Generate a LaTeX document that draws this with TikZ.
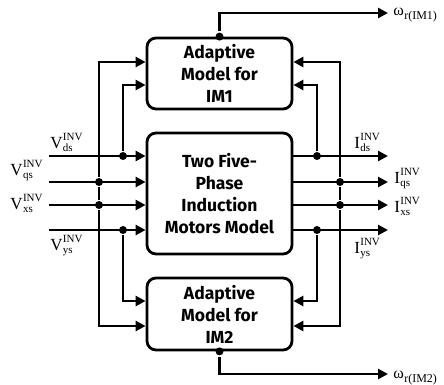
\documentclass[tikz,border=0pt]{standalone}
\usepackage{fontspec}
\setmainfont{Liberation Serif}
\newfontfamily\boxfont{Fira Sans}
\usetikzlibrary{arrows.meta}

% signal name with stacked INV superscript and component subscript
\newcommand\sigfont{\fontsize{11}{11}\selectfont}
\newcommand\invsig[2]{#1\kern0.3pt\sbox0{\sigfont INV}\sbox2{\sigfont #2}%
  \rlap{\raisebox{8pt}{\usebox0}}\raisebox{-3pt}{\usebox2}\kern\dimexpr\wd0-\wd2\relax}
% rotor speed with subscript
\newcommand\rotspeed[1]{ω\kern0.4pt\raisebox{-4pt}{\fontsize{12}{12}\selectfont #1}}

\begin{document}
\begin{tikzpicture}[x=1pt, y=-1pt, line width=2.8pt,
  blk/.style={draw, rounded corners=9pt, minimum width=145pt, align=center,
    font=\boxfont\bfseries\fontsize{17.5}{22}\selectfont, inner sep=0pt},
  sig/.style={-{Triangle[length=10pt,width=10pt]}},
  jdot/.style={circle, fill, inner sep=0pt, minimum size=8pt},
  lbl/.style={inner sep=0pt, font=\fontsize{17}{19}\selectfont},
  wlbl/.style={inner sep=0pt, font=\fontsize{16}{18}\selectfont}]
\useasboundingbox (0,0) rectangle (444,385);

% blocks
\node[blk, minimum height=71pt]  (im1) at (219.5,73.5) {Adaptive\\Model for\\IM1};
\node[blk, minimum height=121pt] (mot) at (219.5,193.5) {Two Five-\\Phase\\Induction\\Motors Model};
\node[blk, minimum height=72pt]  (im2) at (219.5,314) {Adaptive\\Model for\\IM2};

% input voltages
\coordinate (vds) at (49,156);
\coordinate (vqs) at (49,182);
\coordinate (vxs) at (49,205);
\coordinate (vys) at (49,230);
\foreach \s in {vds,vqs,vxs,vys} \draw[sig] (\s) -- (\s -| mot.west);

% voltage branches to the adaptive models
\node[jdot] (jvd) at (123,156) {};
\node[jdot] (jvq) at (99,182) {};
\node[jdot] (jvx) at (99,205) {};
\node[jdot] (jvy) at (123,230) {};
\coordinate (a1) at (99,62);
\coordinate (a2) at (123,85);
\coordinate (b1) at (123,301);
\coordinate (b2) at (99,326);
\draw[sig] (jvq) -- (a1) -- (a1 -| im1.west);
\draw[sig] (jvd) -- (a2) -- (a2 -| im1.west);
\draw[sig] (jvy) -- (b1) -- (b1 -| im2.west);
\draw[sig] (jvx) -- (b2) -- (b2 -| im2.west);
\draw (jvq) -- (jvx);

% output currents
\coordinate (ids) at (388,156);
\coordinate (iqs) at (388,182);
\coordinate (ixs) at (388,205);
\coordinate (iys) at (388,230);
\foreach \s in {ids,iqs,ixs,iys} \draw[sig] (\s -| mot.east) -- (\s);

% current branches to the adaptive models
\node[jdot] (jid) at (317,156) {};
\node[jdot] (jiq) at (340,182) {};
\node[jdot] (jix) at (340,205) {};
\node[jdot] (jiy) at (317,230) {};
\coordinate (c1) at (340,62);
\coordinate (c2) at (317,85);
\coordinate (d1) at (317,301);
\coordinate (d2) at (340,326);
\draw[sig] (jiq) -- (c1) -- (c1 -| im1.east);
\draw[sig] (jid) -- (c2) -- (c2 -| im1.east);
\draw[sig] (jiy) -- (d1) -- (d1 -| im2.east);
\draw[sig] (jix) -- (d2) -- (d2 -| im2.east);
\draw (jiq) -- (jix);

% estimated speeds
\node[jdot] (o1) at (im1.north) {};
\node[jdot] (o2) at (im2.south) {};
\coordinate (w1) at (388,13);
\coordinate (w2) at (388,374);
\draw[sig] (o1) |- (w1);
\draw[sig] (o2) |- (w2);

% labels
\node[lbl, anchor=base west] at (49,148)  {\invsig{V}{ds}};
\node[lbl, anchor=base east] at (44,175)  {\invsig{V}{qs}};
\node[lbl, anchor=base east] at (44,209)  {\invsig{V}{xs}};
\node[lbl, anchor=base west] at (49,250)  {\invsig{V}{ys}};
\node[lbl, anchor=base west] at (353,148) {\invsig{I}{ds}};
\node[lbl, anchor=base west] at (393,183) {\invsig{I}{qs}};
\node[lbl, anchor=base west] at (393,212) {\invsig{I}{xs}};
\node[lbl, anchor=base west] at (353,253) {\invsig{I}{ys}};
\node[wlbl, anchor=base west] at (392,16)  {\rotspeed{r(IM1)}};
\node[wlbl, anchor=base west] at (392,378) {\rotspeed{r(IM2)}};
\end{tikzpicture}
\end{document}
